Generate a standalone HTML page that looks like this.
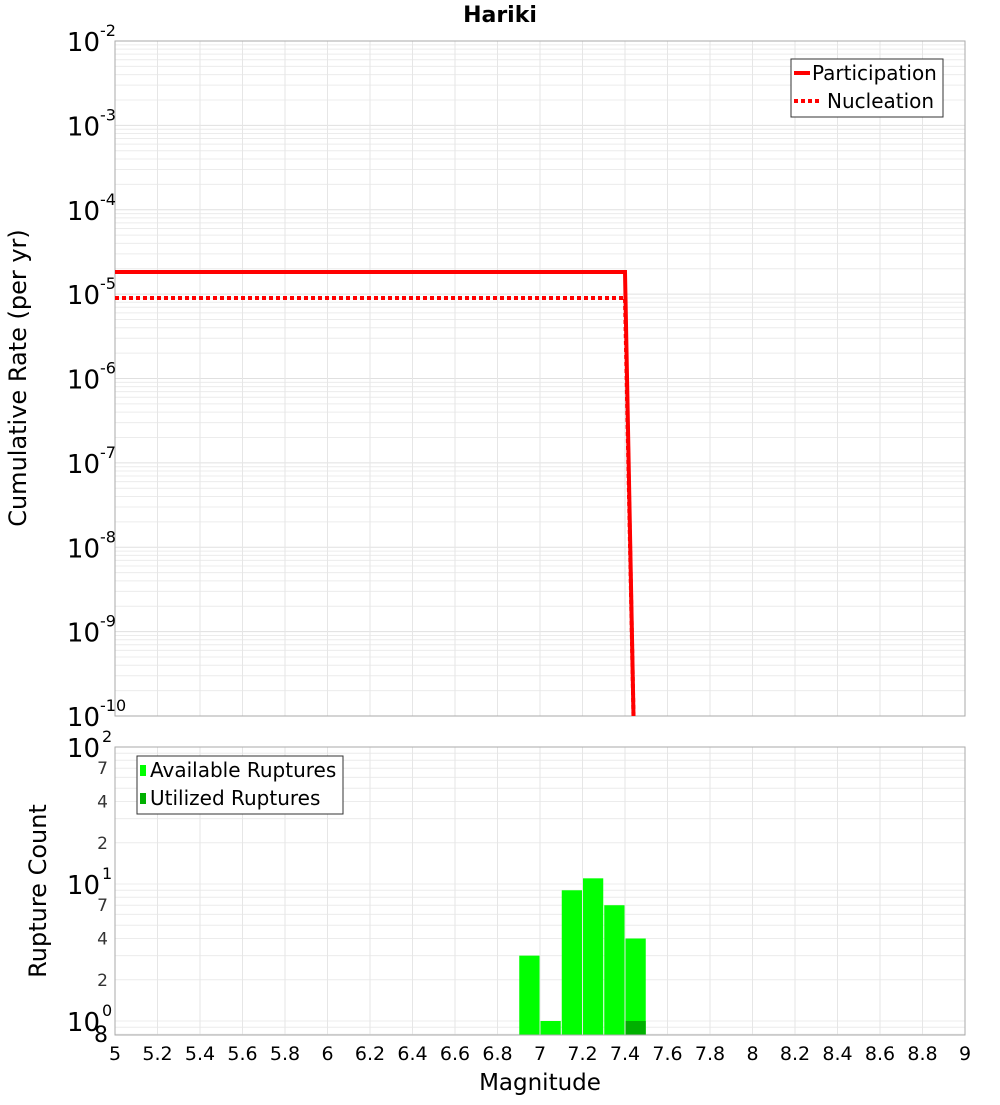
<!DOCTYPE html>
<html><head><meta charset="utf-8"><style>
body{margin:0;background:#fff;font-family:"Liberation Sans","DejaVu Sans",sans-serif}
svg text{font-family:"DejaVu Sans","Liberation Sans",sans-serif}
</style></head><body>
<svg id="c" width="1000" height="1100" xmlns="http://www.w3.org/2000/svg"></svg>
<script>
const xTicks=[5,5.2,5.4,5.6,5.8,6,6.2,6.4,6.6,6.8,7,7.2,7.4,7.6,7.8,8,8.2,8.4,8.6,8.8,9];
const partMags=[5,7.4,7.44];
const partRates=[1.83e-5,1.83e-5,1e-10];
const nuclMags=[5,7.4,7.44];
const nuclRates=[9e-6,9e-6,1e-10];
const barMags=[6.95,7.05,7.15,7.25,7.35,7.45];
const availCounts=[3,1,9,11,7,4];
const usedCounts=[0,0,0,0,0,1];
const S=document.getElementById('c');const NS='http://www.w3.org/2000/svg';
function mk(t,a,p){const e=document.createElementNS(NS,t);for(const k in a)e.setAttribute(k,a[k]);(p||S).appendChild(e);return e;}
const X=v=>115+(v-5)*212.5;
const Y1=v=>41+(-2-Math.log10(v))*84.375;
const Y2=v=>1021-Math.log10(v)*137;
let g=mk('g',{});
for(let d=-10;d<-2;d++)for(let m=1;m<10;m++){const y=Y1(m*Math.pow(10,d));mk('line',{x1:115,x2:965,y1:y,y2:y,stroke:m==1?'#e0e0e0':'#ececec','stroke-width':1},g);}
for(const t of xTicks){mk('line',{x1:X(t),x2:X(t),y1:41,y2:716,stroke:'#e6e6e6'},g);}
let r=mk('rect',{x:115,y:41,width:850,height:675,fill:'none',stroke:'#aaa'});
let g2=mk('g',{});
for(let d=-1;d<2;d++)for(let m=1;m<10;m++){const v=m*Math.pow(10,d);const y=Y2(v);if(y>1035||y<747)continue;mk('line',{x1:115,x2:965,y1:y,y2:y,stroke:'#ececec'},g2);}
for(const t of xTicks){mk('line',{x1:X(t),x2:X(t),y1:747,y2:1035,stroke:'#e6e6e6'},g2);}
function pts(ms,rs){return ms.map((m,i)=>X(m)+','+Math.min(716,Y1(rs[i]))).join(' ');}
let pl=mk('polyline',{points:pts(partMags,partRates),fill:'none',stroke:'#ff0000','stroke-width':4});
let nl=mk('polyline',{points:pts(nuclMags,nuclRates),fill:'none',stroke:'#ff0000','stroke-width':4,'stroke-dasharray':'4,3'});
const bw=212.5*0.1;
barMags.forEach((m,i)=>{const y=Y2(availCounts[i]);let b=mk('rect',{x:X(m)-bw/2+0.5,y:y,width:bw-1,height:1035-y,fill:'#00ff00'});
if(usedCounts[i]>0){const yu=Y2(usedCounts[i]);let u=mk('rect',{x:X(m)-bw/2+0.5,y:yu,width:bw-1,height:1035-yu,fill:'#00b000'});}});
let r2=mk('rect',{x:115,y:747,width:850,height:288,fill:'none',stroke:'#aaa'});
xTicks.forEach(t=>{let tx=mk('text',{x:X(t),y:1060,'font-size':19,'text-anchor':'middle'});tx.textContent=String(t);});
for(let d=-10;d<=-2;d++){const y=Y1(Math.pow(10,d));let tx=mk('text',{x:100,y:y+10,'font-size':26,'text-anchor':'end'});tx.textContent='10';let s=mk('text',{x:100,y:y-5,'font-size':16});s.textContent=String(d);}
[[100,'10','2'],[10,'10','1'],[1,'10','0']].forEach(([v,b,e])=>{const y=Y2(v);let tx=mk('text',{x:100,y:y+10,'font-size':26,'text-anchor':'end'});tx.textContent=b;let s=mk('text',{x:102,y:y-5,'font-size':16});s.textContent=e;});
[[70,'7'],[40,'4'],[20,'2'],[7,'7'],[4,'4'],[2,'2']].forEach(([v,l])=>{let tx=mk('text',{x:108,y:Y2(v)+6,'font-size':17,'text-anchor':'end',fill:'#333'});tx.textContent=l;});
let e8=mk('text',{x:108,y:1042,'font-size':22,'text-anchor':'end'});e8.textContent='8';
let ti=mk('text',{x:500,y:22,'font-size':22,'font-weight':'bold','text-anchor':'middle'});ti.textContent='Hariki';
let xl=mk('text',{x:540,y:1090,'font-size':23,'text-anchor':'middle'});xl.textContent='Magnitude';
let yl=mk('text',{x:26,y:378,'font-size':24,'text-anchor':'middle',transform:'rotate(-90 26 378)'});yl.textContent='Cumulative Rate (per yr)';
let yl2=mk('text',{x:46,y:891,'font-size':24,'text-anchor':'middle',transform:'rotate(-90 46 891)'});yl2.textContent='Rupture Count';
let lg=mk('g',{});
mk('rect',{x:791,y:59,width:152,height:58,fill:'#fff',stroke:'#333'},lg);
mk('line',{x1:794,x2:810,y1:73,y2:73,stroke:'#f00','stroke-width':4},lg);
mk('line',{x1:794,x2:822,y1:101,y2:101,stroke:'#f00','stroke-width':4,'stroke-dasharray':'4,3'},lg);
let a=mk('text',{x:812,y:80,'font-size':20},lg);a.textContent='Participation';
let b=mk('text',{x:827,y:108,'font-size':20},lg);b.textContent='Nucleation';
let lg2=mk('g',{});
mk('rect',{x:137,y:756,width:206,height:58,fill:'#fff',stroke:'#333'},lg2);
mk('rect',{x:140,y:765,width:6,height:11,fill:'#00ff00'},lg2);
mk('rect',{x:140,y:793,width:6,height:11,fill:'#00b000'},lg2);
let c=mk('text',{x:150,y:777,'font-size':20},lg2);c.textContent='Available Ruptures';
let d=mk('text',{x:150,y:805,'font-size':20},lg2);d.textContent='Utilized Ruptures';
</script>
</body></html>
